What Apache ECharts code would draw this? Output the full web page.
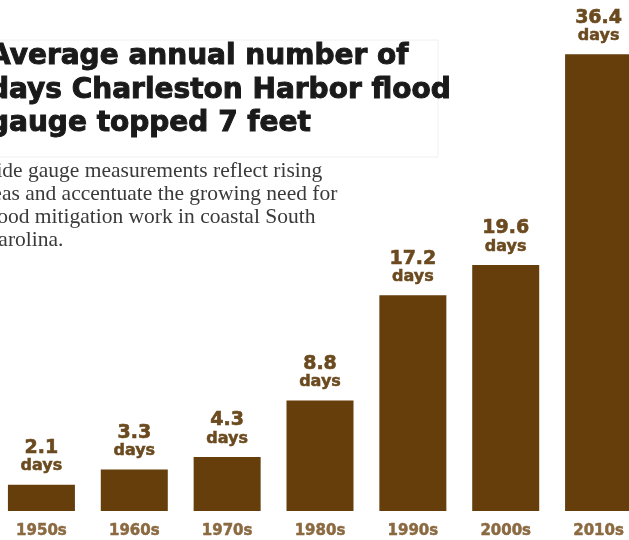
<!DOCTYPE html>
<html>
<head>
<meta charset="utf-8">
<style>
  html, body { margin: 0; padding: 0; background: #ffffff; }
  #chart { width: 629px; height: 540px; }
</style>
<script src="https://cdn.jsdelivr.net/npm/echarts@6/dist/echarts.min.js"></script>
</head>
<body>
<div id="chart"></div>
<script>
// Decades and the average annual number of days the harbor gauge topped 7 feet
const decades = ['1950s', '1960s', '1970s', '1980s', '1990s', '2000s', '2010s'];
const floodDays = [2.1, 3.3, 4.3, 8.8, 17.2, 19.6, 36.4];
const unitLabel = 'days';

const titleLines = [
  'Average annual number of',
  'days Charleston Harbor flood',
  'gauge topped 7 feet'
];
const noteLines = [
  'Tide gauge measurements reflect rising',
  'seas and accentuate the growing need for',
  'flood mitigation work in coastal South',
  'Carolina.'
];

const BAR = '#653e0c';
const LABEL = '#6b4a1f';
const CAT = '#8b6a42';

const chart = echarts.init(document.getElementById('chart'), null, { renderer: 'canvas' });

chart.setOption({
  backgroundColor: '#ffffff',
  animation: false,
  // the bar row runs slightly past both edges of the canvas
  grid: { left: -5, width: 650, top: 9, bottom: 29, containLabel: false, outerBoundsMode: 'none' },
  xAxis: {
    type: 'category',
    data: decades,
    axisLine: { show: false },
    axisTick: { show: false },
    axisLabel: {
      margin: 13,
      color: CAT,
      fontFamily: 'DejaVu Sans',
      fontWeight: 'bold',
      fontSize: 15,
      textBorderColor: CAT,
      textBorderWidth: 0.5
    }
  },
  yAxis: {
    type: 'value',
    min: 0,
    max: 40,
    show: false,
    splitLine: { show: false }
  },
  series: [{
    type: 'bar',
    data: floodDays,
    barWidth: 67,
    itemStyle: { color: BAR },
    label: {
      show: true,
      position: 'top',
      distance: 10,
      formatter: (p) => '{v|' + p.value + '}\n{d|' + unitLabel + '}',
      rich: {
        v: { fontFamily: 'DejaVu Sans', fontWeight: 'bold', fontSize: 19, color: LABEL, lineHeight: 19, align: 'center', textBorderColor: LABEL, textBorderWidth: 0.6 },
        d: { fontFamily: 'DejaVu Sans', fontWeight: 'bold', fontSize: 16, color: LABEL, lineHeight: 17, align: 'center', textBorderColor: LABEL, textBorderWidth: 0.5 }
      }
    }
  }],
  graphic: [
    {
      type: 'rect',
      z: 0,
      shape: { x: -2, y: 40, width: 440, height: 117 },
      style: { fill: '#ffffff', stroke: '#f0f0f0', lineWidth: 1 }
    },
    {
      type: 'text',
      z: 10,
      x: -11,
      y: 40,
      style: {
        text: titleLines.join('\n'),
        font: 'bold 28px "DejaVu Sans"',
        fill: '#1a1a1a',
        stroke: '#1a1a1a',
        lineWidth: 1,
        lineHeight: 33.5,
        align: 'left',
        verticalAlign: 'top'
      }
    },
    {
      type: 'text',
      z: 10,
      x: -16,
      y: 160,
      style: {
        text: noteLines.join('\n'),
        font: '21.5px "Liberation Serif"',
        fill: '#3a3a3a',
        lineHeight: 23,
        align: 'left',
        verticalAlign: 'top'
      }
    }
  ]
});
</script>
</body>
</html>
